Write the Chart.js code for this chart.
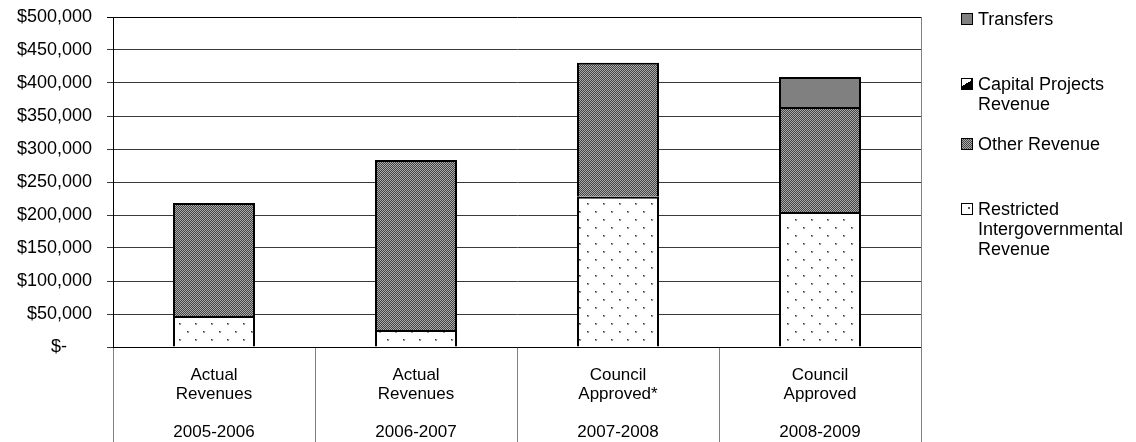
<!DOCTYPE html>
<html lang="en">
<head>
  <meta charset="UTF-8" />
  <title>Revenues by Source</title>
  <script src="https://cdn.jsdelivr.net/npm/chart.js"></script>
  <style>
    html, body { margin: 0; padding: 0; background: #fff; }
    body {
      width: 1136px; height: 442px; position: relative; overflow: hidden;
      font-family: 'Liberation Sans', Arial, sans-serif; color: #000;
    }
    #wrap { position: absolute; left: 0; top: 0; width: 1136px; height: 442px; }

    /* legend */
    .legend-item { position: absolute; left: 961px; font-size: 18px; line-height: 20px; white-space: nowrap; }
    .legend-item .box { position: absolute; left: 0; top: 4px; width: 10px; height: 10px; border: 1px solid #000; }
    .legend-item .txt { display: block; margin-left: 17px; }
    .box.transfers { background: #808080; }
    .box.capital { background: linear-gradient(150deg, #fff 50%, #000 50%); border-width: 1px 2px 2px 1px; width: 9px; height: 9px; }
    .box.other { background: repeating-conic-gradient(#444 0 25%, #aaa 0 50%) 0 0 / 2px 2px; }
    .box.restricted { background: radial-gradient(circle at 7px 4px, #555 0.8px, #fff 1.2px); }
  </style>
</head>
<body>
  <div id="wrap"><canvas id="revChart" width="1136" height="442"></canvas></div>

  <div class="legend-item" style="top:9px"><span class="box transfers"></span><span class="txt">Transfers</span></div>
  <div class="legend-item" style="top:74px"><span class="box capital"></span><span class="txt">Capital Projects<br>Revenue</span></div>
  <div class="legend-item" style="top:134px"><span class="box other"></span><span class="txt">Other Revenue</span></div>
  <div class="legend-item" style="top:199px"><span class="box restricted"></span><span class="txt">Restricted<br>Intergovernmental<br>Revenue</span></div>

  <script>
    // data
    const categoryNames = [["Actual", "Revenues"], ["Actual", "Revenues"], ["Council", "Approved*"], ["Council", "Approved"]];
    const fiscalYears = ["2005-2006", "2006-2007", "2007-2008", "2008-2009"];
    const restrictedRevenue = [47000, 25800, 227700, 204500];
    const otherRevenue = [171000, 257500, 203000, 159100];
    const capitalRevenue = [0, 0, 0, 0];
    const transfers = [0, 0, 0, 45400];
    const yTicks = [0, 50000, 100000, 150000, 200000, 250000, 300000, 350000, 400000, 450000, 500000];

    const labels = categoryNames.map((n, i) => [...n, "", fiscalYears[i]]);

    // fill patterns
    const makePattern = (w, h, draw) => {
      const c = document.createElement("canvas");
      c.width = w; c.height = h;
      const ctx = c.getContext("2d");
      draw(ctx);
      return ctx.createPattern(c, "repeat");
    };

    const dotPattern = makePattern(16, 16, ctx => {
      ctx.fillStyle = "#fff";
      ctx.fillRect(0, 0, 16, 16);
      ctx.fillStyle = "#999";
      ctx.fillRect(3, 3, 2, 2);
      ctx.fillRect(11, 11, 2, 2);
      ctx.fillStyle = "#333";
      ctx.fillRect(3, 3, 1, 1);
      ctx.fillRect(11, 11, 1, 1);
    });

    const checkPattern = makePattern(2, 2, ctx => {
      ctx.fillStyle = "#444";
      ctx.fillRect(0, 0, 2, 2);
      ctx.fillStyle = "#aaa";
      ctx.fillRect(0, 0, 1, 1);
      ctx.fillRect(1, 1, 1, 1);
    });

    // right border of plot, running to the bottom like the category dividers
    const rightBorder = {
      id: "rightBorder",
      afterDraw(chart) {
        const { ctx, chartArea } = chart;
        ctx.save();
        ctx.strokeStyle = "#808080";
        ctx.lineWidth = 1;
        ctx.beginPath();
        ctx.moveTo(Math.round(chartArea.right) + 0.5, chartArea.top);
        ctx.lineTo(Math.round(chartArea.right) + 0.5, chart.height);
        ctx.stroke();
        ctx.restore();
      }
    };

    const barOpts = { borderColor: "#000", borderWidth: 2, categoryPercentage: 1, barPercentage: 0.406 };

    new Chart(document.getElementById("revChart"), {
      type: "bar",
      data: {
        labels: labels,
        datasets: [
          { label: "Restricted Intergovernmental Revenue", data: restrictedRevenue, backgroundColor: dotPattern, ...barOpts },
          { label: "Other Revenue", data: otherRevenue, backgroundColor: checkPattern, ...barOpts },
          { label: "Capital Projects Revenue", data: capitalRevenue, backgroundColor: "#000", ...barOpts, borderWidth: 0 },
          { label: "Transfers", data: transfers, backgroundColor: "#808080", ...barOpts }
        ]
      },
      options: {
        responsive: false,
        animation: false,
        layout: { padding: { left: 0, right: 215, top: 17, bottom: 0 } },
        plugins: {
          legend: { display: false },
          tooltip: { enabled: false }
        },
        scales: {
          x: {
            stacked: true,
            offset: true,
            grid: { offset: true, drawOnChartArea: false, color: "#808080", tickLength: 95, lineWidth: 1 },
            border: { color: "#000", width: 1 },
            ticks: {
              color: "#000",
              padding: -76,
              maxRotation: 0,
              autoSkip: false,
              font: { family: "'Liberation Sans', Arial, sans-serif", size: 17, lineHeight: 1.12 }
            },
            afterFit(scale) {
              scale.height = 95;
              scale.paddingLeft = 0;
              scale.paddingRight = 0;
            }
          },
          y: {
            stacked: true,
            min: 0,
            max: 500000,
            afterBuildTicks(scale) { scale.ticks = yTicks.map(v => ({ value: v })); },
            grid: { color: ctx => ctx.tick && ctx.tick.value === 500000 ? "#000" : "#3a3a3a", tickLength: 6, lineWidth: 1 },
            border: { color: "#000", width: 1 },
            ticks: {
              color: "#000",
              padding: 15,
              font: { family: "'Liberation Sans', Arial, sans-serif", size: 18 },
              callback: v => v === 0 ? "$-     " : "$" + v.toLocaleString("en-US")
            },
            afterFit(scale) {
              scale.width = 113;
              scale.paddingTop = 0;
              scale.paddingBottom = 0;
            }
          }
        }
      },
      plugins: [rightBorder]
    });
  </script>
</body>
</html>
